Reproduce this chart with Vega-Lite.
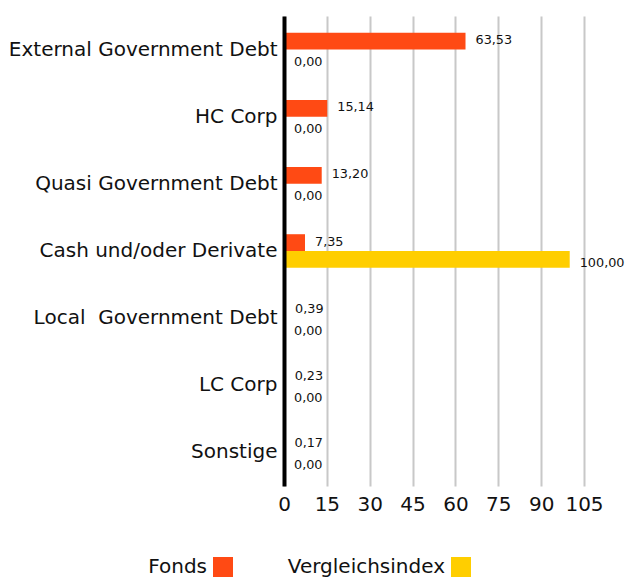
{
  "$schema": "https://vega.github.io/schema/vega-lite/v6.json",
  "width": 300,
  "height": 470,
  "autosize": "none",
  "padding": {"left": 284, "top": 16, "right": 44, "bottom": 94},
  "config": {
    "view": {"stroke": null},
    "font": "DejaVu Sans",
    "locale": {"number": {"decimal": ",", "thousands": ".", "grouping": [3], "currency": ["", " €"]}}
  },
  "data": {
    "values": [
      {"category": "External Government Debt", "series": "Fonds", "value": 63.53},
      {"category": "External Government Debt", "series": "Vergleichsindex", "value": 0.0},
      {"category": "HC Corp", "series": "Fonds", "value": 15.14},
      {"category": "HC Corp", "series": "Vergleichsindex", "value": 0.0},
      {"category": "Quasi Government Debt", "series": "Fonds", "value": 13.2},
      {"category": "Quasi Government Debt", "series": "Vergleichsindex", "value": 0.0},
      {"category": "Cash und/oder Derivate", "series": "Fonds", "value": 7.35},
      {"category": "Cash und/oder Derivate", "series": "Vergleichsindex", "value": 100.0},
      {"category": "Local  Government Debt", "series": "Fonds", "value": 0.39},
      {"category": "Local  Government Debt", "series": "Vergleichsindex", "value": 0.0},
      {"category": "LC Corp", "series": "Fonds", "value": 0.23},
      {"category": "LC Corp", "series": "Vergleichsindex", "value": 0.0},
      {"category": "Sonstige", "series": "Fonds", "value": 0.17},
      {"category": "Sonstige", "series": "Vergleichsindex", "value": 0.0}
    ]
  },
  "encoding": {
    "y": {
      "field": "category",
      "type": "nominal",
      "sort": null,
      "scale": {"paddingInner": 0.5, "paddingOuter": 0.25},
      "axis": {
        "title": null,
        "ticks": false,
        "grid": false,
        "domain": true,
        "domainColor": "#000000",
        "domainWidth": 4,
        "labelFontSize": 20,
        "labelColor": "#111111",
        "labelPadding": 7,
        "labelLimit": 300,
        "zindex": 1,
        "labelExpr": "replace(datum.label, '  ', '\u00a0 ')"
      }
    },
    "yOffset": {"field": "series", "type": "nominal", "scale": {"paddingInner": 0, "paddingOuter": 0}},
    "x": {
      "field": "value",
      "type": "quantitative",
      "scale": {"domain": [0, 105], "nice": false},
      "axis": {
        "title": null,
        "values": [0, 15, 30, 45, 60, 75, 90, 105],
        "format": "d",
        "ticks": false,
        "domain": false,
        "grid": true,
        "gridColor": "#c8c8c8",
        "gridWidth": 2,
        "labelFontSize": 20,
        "labelColor": "#111111",
        "labelPadding": 8,
        "labelOverlap": false,
        "labelFlush": false
      }
    }
  },
  "layer": [
    {
      "mark": {"type": "bar"},
      "encoding": {
        "color": {
          "field": "series",
          "type": "nominal",
          "scale": {"domain": ["Fonds", "Vergleichsindex"], "range": ["#FF4A14", "#FFCE00"]},
          "legend": {
            "title": null,
            "orient": "none",
            "legendX": -71,
            "legendY": 541,
            "direction": "horizontal",
            "symbolType": "square",
            "symbolSize": 400,
            "symbolStrokeWidth": 0,
            "labelFontSize": 20,
            "labelColor": "#111111",
            "labelAlign": "right",
            "labelOffset": -26,
            "labelLimit": 300,
            "columnPadding": 54
          }
        }
      }
    },
    {
      "transform": [{"filter": "datum.series === 'Fonds'"}],
      "mark": {"type": "text", "align": "left", "baseline": "middle", "dx": 10, "dy": -1, "fontSize": 12.8, "color": "#111111"},
      "encoding": {"text": {"field": "value", "type": "quantitative", "format": ".2f"}}
    },
    {
      "transform": [{"filter": "datum.series === 'Vergleichsindex'"}],
      "mark": {"type": "text", "align": "left", "baseline": "middle", "dx": 10, "dy": 4, "fontSize": 12.8, "color": "#111111"},
      "encoding": {"text": {"field": "value", "type": "quantitative", "format": ".2f"}}
    }
  ]
}
